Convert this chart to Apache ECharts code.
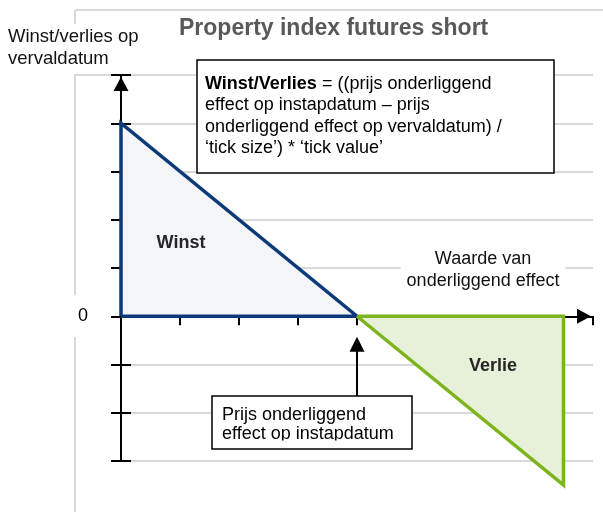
<!DOCTYPE html>
<html><head><meta charset="utf-8">
<script src="https://cdn.jsdelivr.net/npm/echarts@6/dist/echarts.min.js"></script>
<style>html,body{margin:0;padding:0;background:#fff}#c{width:603px;height:512px}</style>
</head><body><div id="c"></div>
<script>
// ---- data ----
const titleText = 'Property index futures short';
const yAxisTitle = 'Winst/verlies op\nvervaldatum';
const xAxisTitle = 'Waarde van\nonderliggend effect';
const xRange = [0, 8];
const yRange = [-3, 5];
const tickStep = 1;
const yTickLabels = { 0: '0' };
const profitEdge = [[0, 4], [4, 0]];
const lossEdge = [[4, 0], [7.5, -3.5]];
const profitLabel = 'Winst';
const lossLabel = 'Verlie';
const entryPrice = 4;
const entryArrowFrom = -1.66;
const entryArrowTo = -0.58;
const formulaBold = 'Winst/Verlies';
const formulaRest = ' = ((prijs onderliggend\neffect op instapdatum \u2013 prijs\nonderliggend effect op vervaldatum) /\n\u2018tick size\u2019) * \u2018tick value\u2019';
const entryNote = 'Prijs onderliggend\neffect op instapdatum';

// ---- derived ----
const profitOutline = [[profitEdge[0][0], 0]].concat(profitEdge, [[profitEdge[0][0], 0]]);
const lossOutline = lossEdge.concat([[lossEdge[1][0], 0], lossEdge[0]]);

const FONT = '"Liberation Sans", Arial, sans-serif';
const BLUE = '#0c3a78', BLUE_FILL = '#f3f5f9';
const GREEN = '#7cb41c', GREEN_FILL = '#e7f0d9';
const GRID = '#d9d9d9';

const chart = echarts.init(document.getElementById('c'), null, { renderer: 'canvas' });

function xAx(inside) {
  return {
    type: 'value', min: xRange[0], max: xRange[1], interval: tickStep,
    axisLine: { show: !inside, onZero: true, lineStyle: { color: '#000', width: 2 },
      symbol: ['none', 'triangle'], symbolSize: [15, 14], symbolOffset: [0, -9] },
    axisTick: { show: true, inside: inside, length: 9, lineStyle: { color: '#000', width: 2 } },
    axisLabel: { show: false }, splitLine: { show: false }
  };
}
function yAx(inside) {
  return {
    type: 'value', position: 'left', min: yRange[0], max: yRange[1], interval: tickStep,
    axisLine: { show: !inside, onZero: true, lineStyle: { color: '#000', width: 2 },
      symbol: ['none', 'triangle'], symbolSize: [15, 14], symbolOffset: [0, -9] },
    axisTick: { show: true, inside: inside, length: 10, lineStyle: { color: '#000', width: 2 } },
    axisLabel: inside ? { show: false } : {
      show: true, margin: 25,
      formatter: v => (yTickLabels[v] !== undefined ? '{z|' + yTickLabels[v] + '}' : ''),
      rich: { z: { fontFamily: FONT, fontSize: 18, color: '#000', backgroundColor: '#fff', padding: [12, 8, 12, 8] } }
    },
    splitLine: inside ? { show: false } : { show: true, lineStyle: { color: GRID, width: 2 } }
  };
}

const option = {
  animation: false,
  backgroundColor: '#fff',
  title: [
    { text: titleText, left: 179, top: 17, padding: 0,
      textStyle: { fontFamily: FONT, fontSize: 23, fontWeight: 'bold', color: '#595959' } },
    { text: yAxisTitle, left: 4, top: 24, padding: [2, 4, 4, 4], backgroundColor: '#fff',
      textStyle: { fontFamily: FONT, fontSize: 18.5, fontWeight: 'normal', color: '#111', lineHeight: 22 } }
  ],
  grid: { left: 121, right: 10, top: 75, bottom: 51, containLabel: false, outerBoundsMode: 'none' },
  xAxis: [xAx(false), xAx(true)],
  yAxis: [yAx(false), yAx(true)],
  series: [
    { type: 'line', data: profitEdge, symbol: 'none', lineStyle: { width: 0 }, clip: false,
      areaStyle: { color: BLUE_FILL, opacity: 1 }, silent: true, z: 2 },
    { type: 'line', data: lossEdge, symbol: 'none', lineStyle: { width: 0 }, clip: false,
      areaStyle: { color: GREEN_FILL, opacity: 1 }, silent: true, z: 2,
      markLine: { silent: true, symbol: ['none', 'triangle'], symbolSize: [15, 15],
        lineStyle: { color: '#000', width: 2, type: 'solid' }, label: { show: false },
        data: [[{ coord: [entryPrice, entryArrowFrom] }, { coord: [entryPrice, entryArrowTo] }]] } },
    { type: 'line', data: profitOutline, symbol: 'none', silent: true, z: 3, clip: false,
      lineStyle: { color: BLUE, width: 3.5, join: 'miter' } },
    { type: 'line', data: lossOutline, symbol: 'none', silent: true, z: 3, clip: false,
      lineStyle: { color: GREEN, width: 3.5, join: 'miter' } }
  ],
  graphic: [
    // background frame
    { type: 'line', z: -1, shape: { x1: 75, y1: 10, x2: 603, y2: 10 }, style: { stroke: GRID, lineWidth: 2 } },
    { type: 'line', z: -1, shape: { x1: 75, y1: 10, x2: 75, y2: 512 }, style: { stroke: GRID, lineWidth: 2 } },
    { type: 'line', z: -1, shape: { x1: 75, y1: 75, x2: 121, y2: 75 }, style: { stroke: GRID, lineWidth: 2 } },
    // formula box
    { type: 'rect', z: 100, shape: { x: 197, y: 60, width: 357, height: 113 },
      style: { fill: '#fff', stroke: '#000', lineWidth: 1.5 } },
    { type: 'text', z: 101, x: 205, y: 73,
      style: { text: '{b|' + formulaBold + '}' + formulaRest, fontFamily: FONT, fontSize: 18, fill: '#000',
        lineHeight: 21.5, rich: { b: { fontFamily: FONT, fontSize: 18, fontWeight: 'bold', fill: '#000', lineHeight: 21.5 } } } },
    // x axis title
    { type: 'text', z: 100, x: 483, y: 248,
      style: { text: xAxisTitle, fontFamily: FONT, fontSize: 18, fill: '#111', align: 'center',
        lineHeight: 22, backgroundColor: '#fff', padding: [0, 6, 0, 6] } },
    // region labels
    { type: 'text', z: 100, x: 181, y: 243,
      style: { text: profitLabel, fontFamily: FONT, fontSize: 18, fontWeight: 'bold', fill: '#262626', align: 'center', verticalAlign: 'middle' } },
    { type: 'text', z: 100, x: 493, y: 366,
      style: { text: lossLabel, fontFamily: FONT, fontSize: 18, fontWeight: 'bold', fill: '#262626', align: 'center', verticalAlign: 'middle' } },
    // entry price note
    { type: 'rect', z: 100, shape: { x: 212, y: 396, width: 200, height: 53 },
      style: { fill: '#fff', stroke: '#000', lineWidth: 1.5 } },
    { type: 'text', z: 101, x: 222, y: 405,
      style: { text: entryNote, fontFamily: FONT, fontSize: 18, fill: '#000', lineHeight: 19.5 } },
    { type: 'rect', z: 102, shape: { x: 214, y: 440.5, width: 196, height: 7.5 }, style: { fill: '#fff' } }
  ]
};
chart.setOption(option);
</script>
</body></html>
